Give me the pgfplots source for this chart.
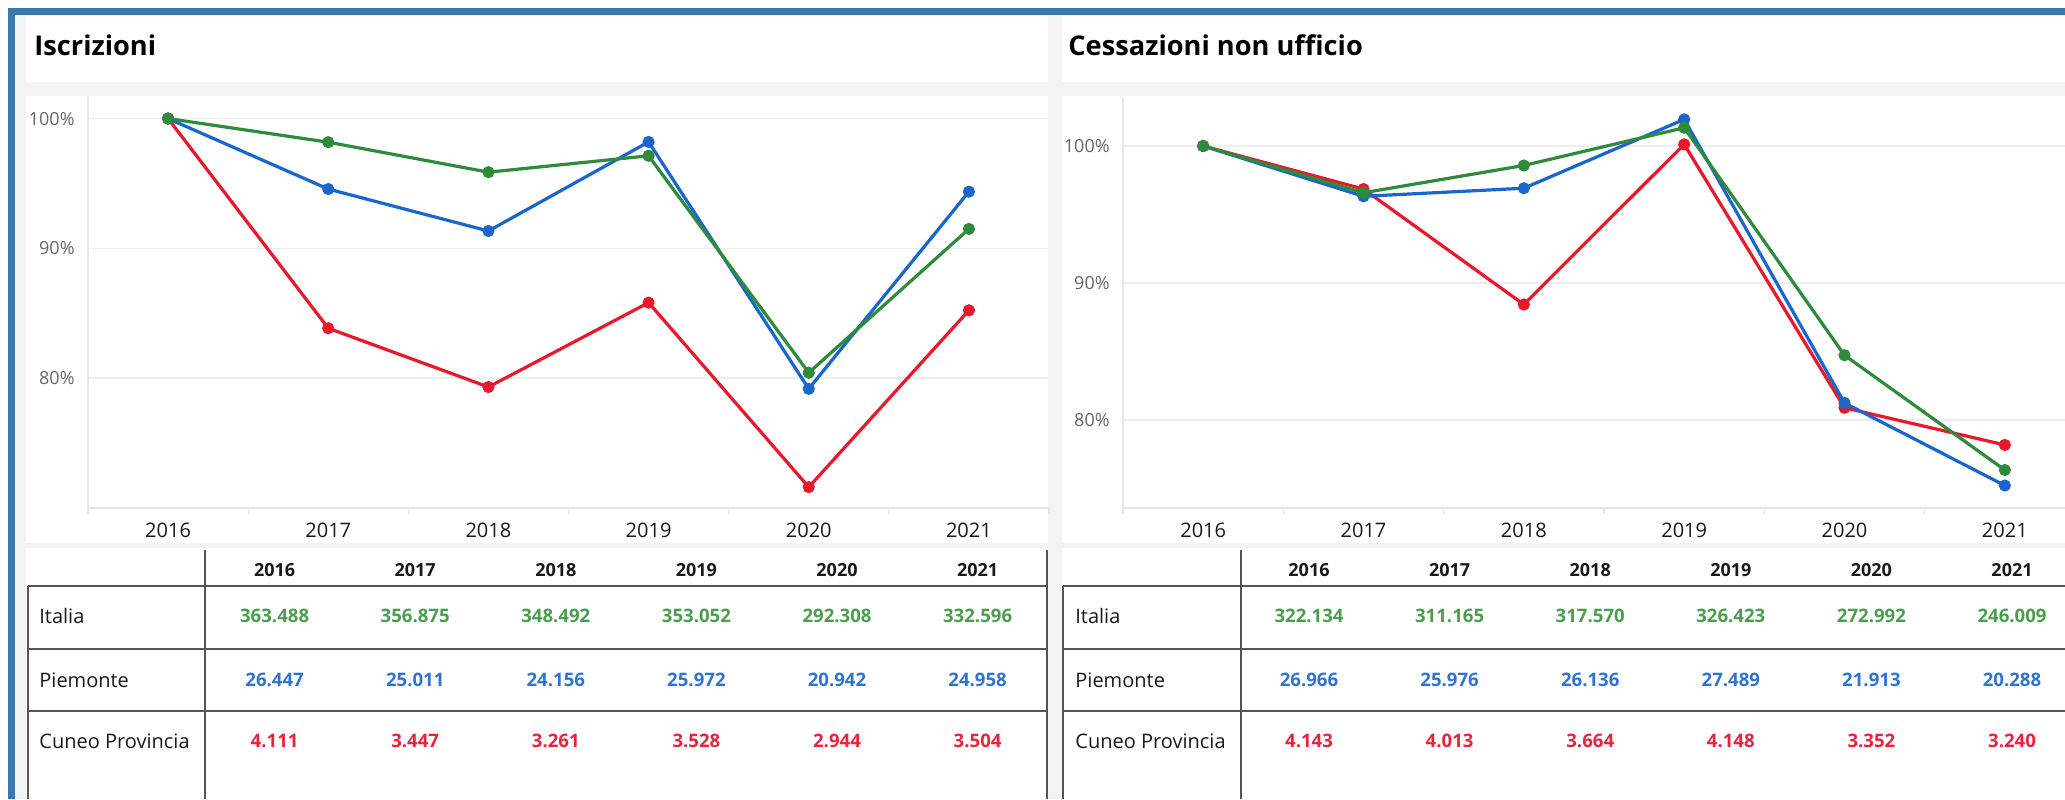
\documentclass[border=0pt]{standalone}
\usepackage{pgfplots}
\pgfplotsset{compat=1.18}
\usepackage{fontspec}
\setmainfont{Open Sans}
\definecolor{bord}{HTML}{3D78AD}
\definecolor{bg}{HTML}{F3F3F3}
\definecolor{lgreen}{HTML}{2E8B3C}
\definecolor{lblue}{HTML}{1A66CC}
\definecolor{lred}{HTML}{E8192C}
\definecolor{tgreen}{HTML}{4A9E4E}
\definecolor{tblue}{HTML}{2F74D0}
\definecolor{tred}{HTML}{E8243C}
\definecolor{tline}{HTML}{555555}
\definecolor{gridc}{HTML}{EEEEEE}
\definecolor{axc}{HTML}{E6E6E6}

\pgfplotsset{
  panel/.style={
    scale only axis,
    xmin=-0.5, xmax=5.5,
    axis lines*=left,
    axis line style={draw=axc, line width=0.6pt},
    xtick={0,...,5},
    xticklabels={2016,2017,2018,2019,2020,2021},
    minor xtick={-0.5,0.5,1.5,2.5,3.5,4.5,5.5},
    major tick length=0pt,
    minor tick length=3pt,
    tick align=outside,
    minor tick style={draw=axc, line width=0.6pt},
    ytick={80,90,100},
    yticklabels={80\%,90\%,100\%},
    ymajorgrids,
    major grid style={draw=gridc, line width=0.8pt},
    xticklabel style={font=\fontsize{10}{12}\selectfont, text=black!90, anchor=north, inner sep=0pt, yshift=-7.5pt},
    yticklabel style={font=\fontsize{9}{11}\selectfont, text=black!60, anchor=east, inner sep=0pt, xshift=-6.5pt},
    every axis plot/.append style={line width=1.6pt, mark=*, mark size=2.2pt},
    clip=false,
  }
}

\begin{document}
\begin{tikzpicture}
\path[use as bounding box] (0,0) rectangle (1032.5pt,-399.5pt);
\clip (0,0) rectangle (1032.5pt,-399.5pt);

\begin{scope}[x=0.5pt,y=-0.5pt]
  \fill[white] (0,0) rectangle (2065,799);
  \fill[bg] (8,8) rectangle (2065,799);
  \fill[bord] (8,8) rectangle (2065,15);
  \fill[bord] (8,8) rectangle (15,799);
  % left panel
  \fill[white] (26,16) rectangle (1048,82);
  \fill[white] (26,96) rectangle (1048,543);
  \fill[white] (26,548) rectangle (1048,799);
  % right panel
  \fill[white] (1062,16) rectangle (2065,82);
  \fill[white] (1062,96) rectangle (2065,543);
  \fill[white] (1062,548) rectangle (2065,799);
  \node[anchor=west, inner sep=0pt, font=\fontsize{13.6}{16}\selectfont\bfseries] at (34,45) {Iscrizioni};
  \node[anchor=west, inner sep=0pt, font=\fontsize{13.6}{16}\selectfont\bfseries] at (1068,45) {Cessazioni non ufficio};
\end{scope}

\begin{axis}[panel, at={(44pt,-254pt)}, anchor=south west,
  width=480.5pt, height=205.5pt, ymin=70, ymax=101.66]
\addplot[lred] coordinates {(0,100) (1,83.85) (2,79.32) (3,85.82) (4,71.61) (5,85.23)};
\addplot[lblue] coordinates {(0,100) (1,94.57) (2,91.34) (3,98.20) (4,79.18) (5,94.37)};
\addplot[lgreen] coordinates {(0,100) (1,98.18) (2,95.87) (3,97.13) (4,80.42) (5,91.50)};
\end{axis}

\begin{axis}[panel, at={(561.5pt,-254pt)}, anchor=south west,
  width=481pt, height=205pt, ymin=73.6, ymax=103.5]
\addplot[lred] coordinates {(0,100) (1,96.86) (2,88.44) (3,100.12) (4,80.91) (5,78.20)};
\addplot[lblue] coordinates {(0,100) (1,96.33) (2,96.92) (3,101.94) (4,81.26) (5,75.24)};
\addplot[lgreen] coordinates {(0,100) (1,96.59) (2,98.58) (3,101.33) (4,84.74) (5,76.37)};
\end{axis}

\begin{scope}[x=0.5pt,y=-0.5pt]
  % left table lines
  \draw[tline, line width=1pt] (205,550) -- (205,799);
  \draw[tline, line width=1.2pt] (1047,550) -- (1047,799);
  \draw[tline, line width=1pt] (28,586) -- (28,799);
  \foreach \yy in {586,649,711} \draw[tline, line width=1pt] (28,\yy) -- (1047,\yy);
  % right table lines
  \draw[tline, line width=1pt] (1241,550) -- (1241,799);
  \draw[tline, line width=1pt] (1063,586) -- (1063,799);
  \foreach \yy in {586,649,711} \draw[tline, line width=1pt] (1063,\yy) -- (2065,\yy);

  \tikzset{hd/.style={font=\fontsize{9}{11}\selectfont\bfseries, text=black!90, inner sep=0pt},
           rl/.style={font=\fontsize{10}{12}\selectfont, text=black!90, anchor=west, inner sep=0pt},
           vg/.style={font=\fontsize{9.3}{11}\selectfont\bfseries, text=tgreen, inner sep=0pt},
           vb/.style={font=\fontsize{9.3}{11}\selectfont\bfseries, text=tblue, inner sep=0pt},
           vr/.style={font=\fontsize{9.3}{11}\selectfont\bfseries, text=tred, inner sep=0pt}}
  % left table text
  \foreach \x/\yr in {274.6/2016,415.2/2017,555.8/2018,696.4/2019,837/2020,977.6/2021}
    \node[hd] at (\x,570) {\yr};
  \node[rl] at (39,616) {Italia};
  \node[rl] at (39,680) {Piemonte};
  \node[rl] at (39,741) {Cuneo Provincia};
  \foreach \x/\v in {274.6/363.488,415.2/356.875,555.8/348.492,696.4/353.052,837/292.308,977.6/332.596}
    \node[vg] at (\x,616) {\v};
  \foreach \x/\v in {274.6/26.447,415.2/25.011,555.8/24.156,696.4/25.972,837/20.942,977.6/24.958}
    \node[vb] at (\x,680) {\v};
  \foreach \x/\v in {274.6/4.111,415.2/3.447,555.8/3.261,696.4/3.528,837/2.944,977.6/3.504}
    \node[vr] at (\x,741) {\v};
  % right table text
  \foreach \x/\yr in {1309/2016,1449.6/2017,1590.2/2018,1730.8/2019,1871.4/2020,2012/2021}
    \node[hd] at (\x,570) {\yr};
  \node[rl] at (1075,616) {Italia};
  \node[rl] at (1075,680) {Piemonte};
  \node[rl] at (1075,741) {Cuneo Provincia};
  \foreach \x/\v in {1309/322.134,1449.6/311.165,1590.2/317.570,1730.8/326.423,1871.4/272.992,2012/246.009}
    \node[vg] at (\x,616) {\v};
  \foreach \x/\v in {1309/26.966,1449.6/25.976,1590.2/26.136,1730.8/27.489,1871.4/21.913,2012/20.288}
    \node[vb] at (\x,680) {\v};
  \foreach \x/\v in {1309/4.143,1449.6/4.013,1590.2/3.664,1730.8/4.148,1871.4/3.352,2012/3.240}
    \node[vr] at (\x,741) {\v};
\end{scope}
\end{tikzpicture}
\end{document}
